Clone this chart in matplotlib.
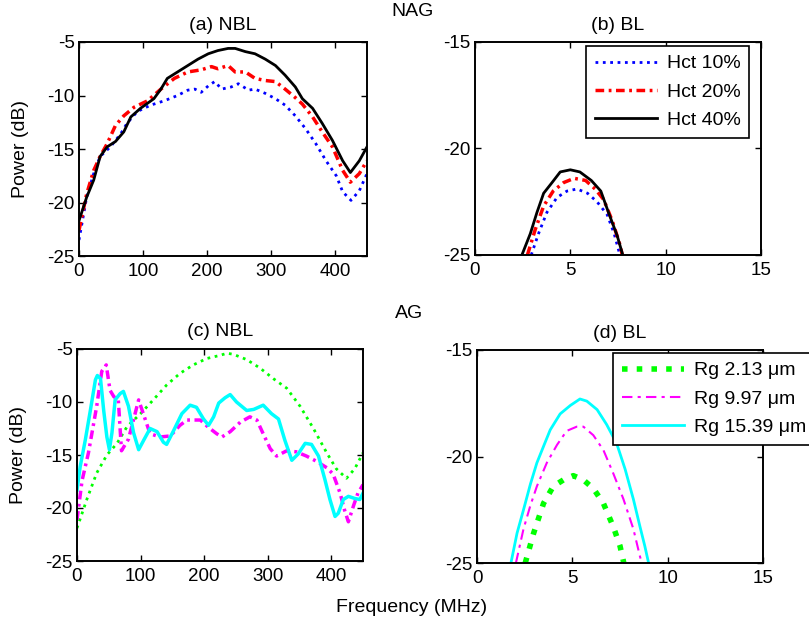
import matplotlib
matplotlib.use("Agg")
import matplotlib.pyplot as plt

plt.rcParams["font.family"] = ["Liberation Sans", "DejaVu Sans"]
plt.rcParams["axes.unicode_minus"] = False

# === DATA ===
# (a) NBL, NAG
nbl_f10 = [0, 12, 23, 33, 49, 65, 75, 91, 112, 133, 154, 170, 181, 191, 202, 212, 223, 238, 249, 265, 275,
           291, 307, 322, 338, 354, 370, 386, 402, 412, 425, 438, 450]
nbl_p10 = [-23.5, -19.5, -17.3, -15.7, -14.8, -13.6, -12.6, -11.5, -10.9, -10.5, -10, -9.5, -9.4, -9.7, -9.1,
           -8.7, -9.4, -9.2, -8.9, -9.5, -9.4, -9.8, -10.3, -10.9, -11.9, -13.1, -14.5, -16.1, -17.5, -19,
           -19.8, -18.9, -17.3]
nbl_f20 = [0, 12, 23, 33, 44, 57, 70, 86, 107, 128, 149, 170, 191, 207, 217, 233, 244, 260, 275, 291, 307,
           322, 338, 349, 365, 380, 396, 412, 424, 438, 450]
nbl_p20 = [-22.6, -19.2, -17, -15.7, -14.5, -12.8, -11.9, -11.1, -10.5, -9.4, -8.4, -7.8, -7.6, -7.3, -7.5,
           -7.2, -7.8, -7.8, -8.4, -8.6, -8.7, -9.4, -10.2, -10.8, -12, -13.4, -14.8, -17, -18.1, -17.3, -16.1]
nbl_f40 = [0, 12, 23, 33, 44, 57, 70, 81, 96, 117, 128, 138, 154, 170, 186, 202, 217, 233, 244, 260, 275,
           291, 307, 322, 338, 349, 365, 380, 396, 412, 424, 438, 450]
nbl_p40 = [-21.7, -19.5, -17.9, -15.7, -14.8, -14.3, -13.4, -12, -11.2, -10.3, -9.4, -8.4, -7.8, -7.2, -6.6,
           -6.1, -5.8, -5.6, -5.6, -5.9, -6.1, -6.6, -7.2, -8.1, -9.2, -10.3, -11.2, -12.6, -14.2, -16.1,
           -17.2, -16.1, -14.8]

# (b) BL, NAG
bl_f10 = [2.95, 3.33, 3.77, 4.3, 4.82, 5.35, 5.9, 6.4, 6.93, 7.3, 7.6]
bl_p10 = [-25, -24, -23, -22.3, -22, -21.9, -22.1, -22.5, -23.1, -24, -25]
bl_f20 = [2.75, 3.16, 3.6, 4.1, 4.65, 5.2, 5.8, 6.3, 6.75, 7.2, 7.63, 7.72]
bl_p20 = [-25, -23.8, -22.7, -22, -21.6, -21.4, -21.5, -21.9, -22.4, -23.4, -24.6, -25]
bl_f40 = [2.46, 2.9, 3.25, 3.6, 4.04, 4.47, 5.0, 5.5, 6.1, 6.6, 7.0, 7.46, 7.75]
bl_p40 = [-25, -24, -23, -22.1, -21.6, -21.1, -21, -21.1, -21.5, -22, -23, -24.1, -25]

# (c) NBL, AG
ag_f213 = [0, 16, 31, 47, 63, 79, 100, 120, 141, 162, 183, 204, 225, 236, 246, 267, 288, 309, 330, 351, 372,
           393, 408, 424, 437, 450]
ag_p213 = [-21.9, -19.1, -16.7, -15, -13.9, -12.3, -11.1, -9.8, -8.4, -7.3, -6.5, -5.9, -5.6, -5.4, -5.5, -6,
           -6.8, -7.8, -8.7, -10.4, -12.5, -14.8, -16.3, -17.2, -16.3, -14.8]
ag_f997 = [0, 8, 18, 31, 39, 46, 52, 58, 65, 70, 81, 97, 115, 131, 147, 162, 173, 194, 207, 220, 228, 241,
           257, 272, 283, 293, 304, 314, 330, 345, 361, 377, 393, 403, 414, 421, 427, 435, 442, 450]
ag_p997 = [-21.1, -17.4, -14.8, -10.4, -7.1, -6.5, -8.9, -9.5, -9.8, -14.6, -13.5, -9.8, -13, -13.3, -13.2,
           -12.2, -11.7, -11.7, -12.4, -13, -13.3, -12.8, -11.9, -11.4, -11.7, -13, -14.4, -15.1, -14.6,
           -14.7, -15.1, -15.6, -16.2, -16.8, -18.6, -20.2, -21.3, -19.8, -18.6, -17.8]
ag_f1539 = [0, 5, 13, 21, 29, 32, 37, 42, 47, 51, 55, 60, 68, 73, 81, 89, 97, 105, 115, 126, 136, 141, 152,
            165, 178, 188, 199, 207, 215, 223, 233, 241, 251, 267, 278, 293, 306, 317, 327, 338, 348, 359,
            369, 380, 390, 398, 406, 411, 419, 427, 437, 445, 450]
ag_p1539 = [-18.3, -16.1, -13.6, -10.8, -7.9, -7.5, -7.8, -10.8, -13.3, -14.5, -12.9, -9.8, -9.2, -9,
            -10.4, -12.9, -14.5, -13.6, -12.5, -12.8, -13.8, -14, -12.7, -11.1, -10.3, -10.5, -11.6, -12.2,
            -11.4, -10.1, -9.6, -9.3, -10, -10.8, -10.7, -10.3, -11.1, -11.6, -13.6, -15.5, -14.9, -13.9,
            -14, -15.1, -17.3, -19.2, -20.8, -20.5, -19.2, -18.9, -19.1, -19.2, -18.6]

# (d) BL, AG
bg_f213 = [2.53, 2.97, 3.49, 4.0, 4.53, 5.05, 5.58, 6.1, 6.63, 7.15, 7.5, 7.7]
bg_p213 = [-25, -23.6, -22.2, -21.4, -21.1, -20.9, -21.1, -21.5, -22.2, -23.3, -24.2, -25]
bg_f997 = [2.04, 2.44, 2.8, 3.14, 3.66, 4.2, 4.7, 5.23, 5.58, 6.1, 6.63, 7.15, 7.68, 8.2, 8.55, 8.64]
bg_p997 = [-25, -23.4, -22.3, -21.4, -20.3, -19.45, -18.8, -18.6, -18.6, -19, -19.7, -20.8, -22, -23.4,
           -24.7, -25]
bg_f1539 = [1.78, 2.1, 2.44, 2.8, 3.14, 3.5, 3.84, 4.36, 4.9, 5.4, 5.76, 6.3, 6.8, 7.33, 7.77, 8.2, 8.55,
            8.8, 9.0]
bg_p1539 = [-25, -23.6, -22.5, -21.3, -20.3, -19.5, -18.75, -18, -17.6, -17.3, -17.4, -17.8, -18.5, -19.4,
            -20.6, -22, -23.3, -24.2, -25]

hct_labels = ["Hct 10%", "Hct 20%", "Hct 40%"]
rg_labels = ["Rg 2.13 \u03bcm", "Rg 9.97 \u03bcm", "Rg 15.39 \u03bcm"]

W, H = 809, 623
FS = 14
TICK_FS = 13.5


def add_ax(fig, left, top, right, bottom):
    return fig.add_axes([left / W, 1 - bottom / H, (right - left) / W, (bottom - top) / H])


def style_ax(ax, xlim, xticks, ylim, yticks, title):
    ax.set_xlim(*xlim)
    ax.set_ylim(*ylim)
    ax.set_xticks(xticks)
    ax.set_yticks(yticks)
    ax.tick_params(direction="in", top=True, right=True, length=4, width=1,
                   labelsize=TICK_FS)
    ax.tick_params(axis="x", pad=5)
    ax.tick_params(axis="y", pad=3)
    for s in ax.spines.values():
        s.set_linewidth(1.4)
    ax.set_title(title, fontsize=FS, pad=9)


def add_legend(fig, handles, labels, x, y):
    leg = fig.legend(handles, labels, loc="upper left", bbox_to_anchor=(x / W, 1 - y / H),
                     borderaxespad=0, fontsize=FS, fancybox=False, framealpha=1,
                     edgecolor="black", handlelength=3.2, handletextpad=0.5,
                     labelspacing=0.55, borderpad=0.45)
    leg.get_frame().set_linewidth(1.2)
    return leg


DASHDOT = (0, (2.5, 1.3, 0.8, 1.3))

fig = plt.figure(figsize=(W / 100, H / 100), dpi=100)

# (a)
ax = add_ax(fig, 79, 42, 367, 256)
ax.plot(nbl_f10, nbl_p10, color="blue", ls=":", lw=2)
ax.plot(nbl_f20, nbl_p20, color="red", ls=DASHDOT, lw=2.5)
ax.plot(nbl_f40, nbl_p40, color="black", ls="-", lw=2)
style_ax(ax, (0, 450), [0, 100, 200, 300, 400], (-25, -5), [-25, -20, -15, -10, -5], "(a) NBL")
ax.set_ylabel("Power (dB)", fontsize=FS)
ax.yaxis.set_label_coords(-0.174, 0.5)

# (b)
ax = add_ax(fig, 475, 42, 761, 255)
l1, = ax.plot(bl_f10, bl_p10, color="blue", ls=":", lw=2)
l2, = ax.plot(bl_f20, bl_p20, color="red", ls=DASHDOT, lw=2.5)
l3, = ax.plot(bl_f40, bl_p40, color="black", ls="-", lw=2)
style_ax(ax, (0, 15), [0, 5, 10, 15], (-25, -15), [-25, -20, -15], "(b) BL")
add_legend(fig, [l1, l2, l3], hct_labels, 586, 46)

# (c)
ax = add_ax(fig, 77, 349, 363, 561)
ax.plot(ag_f213, ag_p213, color="#00ff00", ls=":", lw=2)
ax.plot(ag_f997, ag_p997, color="magenta", ls=DASHDOT, lw=2.5)
ax.plot(ag_f1539, ag_p1539, color="cyan", ls="-", lw=2.5)
style_ax(ax, (0, 450), [0, 100, 200, 300, 400], (-25, -5), [-25, -20, -15, -10, -5], "(c) NBL")
ax.set_ylabel("Power (dB)", fontsize=FS)
ax.yaxis.set_label_coords(-0.175, 0.5)

# (d)
ax = add_ax(fig, 477, 350, 763, 563)
m1, = ax.plot(bg_f213, bg_p213, color="#00ff00", ls=":", lw=4)
m2, = ax.plot(bg_f997, bg_p997, color="magenta", ls=(0, (5, 2.5, 1.5, 2.5)), lw=1.5)
m3, = ax.plot(bg_f1539, bg_p1539, color="cyan", ls="-", lw=2)
style_ax(ax, (0, 15), [0, 5, 10, 15], (-25, -15), [-25, -20, -15], "(d) BL")
add_legend(fig, [m1, m2, m3], rg_labels, 613, 353)

fig.text(413 / W, 1 - 12 / H, "NAG", ha="center", va="center", fontsize=FS)
fig.text(409 / W, 1 - 314 / H, "AG", ha="center", va="center", fontsize=FS)
fig.text(412 / W, 1 - 607 / H, "Frequency (MHz)", ha="center", va="center", fontsize=FS)

fig.savefig("out.png", dpi=100)
